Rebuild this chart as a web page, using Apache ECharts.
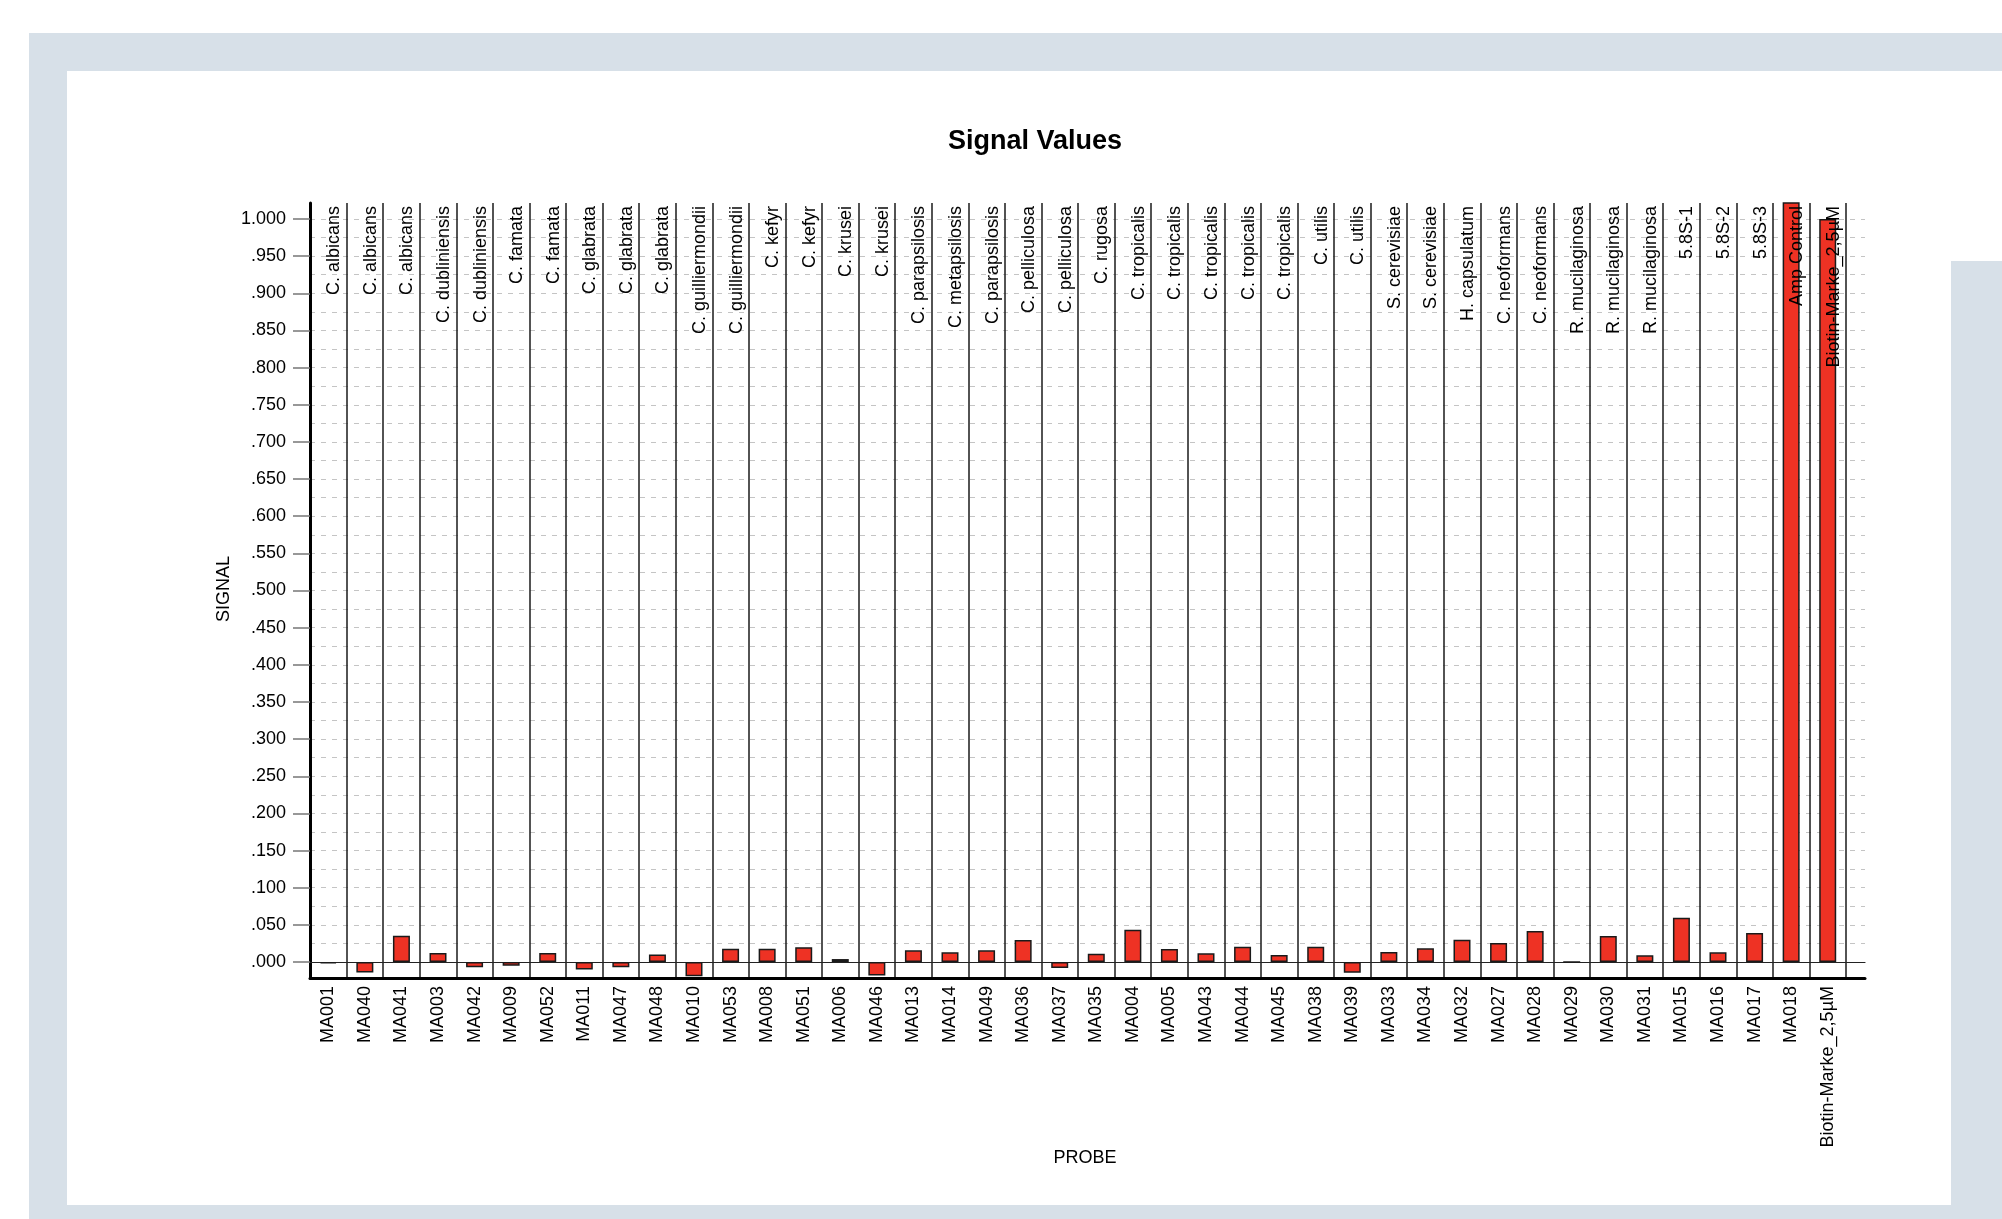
<!DOCTYPE html>
<html>
<head>
<meta charset="utf-8">
<title>Signal Values</title>
<script src="https://cdn.jsdelivr.net/npm/echarts@6/dist/echarts.min.js"></script>
<style>
  html, body { margin: 0; padding: 0; background: #ffffff; }
  #chart { width: 2002px; height: 1219px; }
</style>
</head>
<body>
<div id="chart"></div>
<script>
// Probe identifiers (x axis, bottom)
const probes = [
  'MA001', 'MA040', 'MA041', 'MA003', 'MA042', 'MA009', 'MA052', 'MA011', 'MA047', 'MA048',
  'MA010', 'MA053', 'MA008', 'MA051', 'MA006', 'MA046', 'MA013', 'MA014', 'MA049', 'MA036',
  'MA037', 'MA035', 'MA004', 'MA005', 'MA043', 'MA044', 'MA045', 'MA038', 'MA039', 'MA033',
  'MA034', 'MA032', 'MA027', 'MA028', 'MA029', 'MA030', 'MA031', 'MA015', 'MA016', 'MA017',
  'MA018', 'Biotin-Marke_2,5µM'
];

// Target organism of each probe (labels along the top)
const targets = [
  'C. albicans', 'C. albicans', 'C. albicans', 'C. dubliniensis', 'C. dubliniensis',
  'C. famata', 'C. famata', 'C. glabrata', 'C. glabrata', 'C. glabrata',
  'C. guilliermondii', 'C. guilliermondii', 'C. kefyr', 'C. kefyr', 'C. krusei', 'C. krusei',
  'C. parapsilosis', 'C. metapsilosis', 'C. parapsilosis', 'C. pelliculosa', 'C. pelliculosa',
  'C. rugosa', 'C. tropicalis', 'C. tropicalis', 'C. tropicalis', 'C. tropicalis', 'C. tropicalis',
  'C. utilis', 'C. utilis', 'S. cerevisiae', 'S. cerevisiae', 'H. capsulatum',
  'C. neoformans', 'C. neoformans', 'R. mucilaginosa', 'R. mucilaginosa', 'R. mucilaginosa',
  '5.8S-1', '5.8S-2', '5.8S-3', 'Amp Control', 'Biotin-Marke_2,5µM'
];

// Normalised signal per probe
const signal = [
  -0.002, -0.014, 0.0355, 0.012, -0.007, -0.005, 0.012, -0.010, -0.007, 0.010,
  -0.019, 0.018, 0.018, 0.020, 0.004, -0.018, 0.0157, 0.013, 0.0157, 0.0296,
  -0.008, 0.011, 0.0435, 0.0175, 0.0117, 0.0206, 0.0094, 0.0206, -0.0144, 0.0135,
  0.0184, 0.030, 0.0256, 0.0417, 0, 0.035, 0.009, 0.0597, 0.013, 0.039,
  1.08, 1.000
];

// Visible signal range of the plot area
const signalMin = -0.0215;
const signalMax = 1.0215;

const FONT = "'Liberation Sans', Arial, sans-serif";
const chart = echarts.init(document.getElementById('chart'), null, { renderer: 'canvas' });

function tickText(v) {
  if (Math.abs(v - 1) < 1e-9) return '1.000';
  return v.toFixed(3).replace(/^0/, '');
}

const hidden = { show: false };

const option = {
  animation: false,
  backgroundColor: '#ffffff',
  graphic: [
    // window frame
    { type: 'rect', z: -10, shape: { x: 29, y: 33, width: 1973, height: 1186 }, style: { fill: '#d7e0e8' } },
    { type: 'rect', z: -9, shape: { x: 67, y: 71, width: 1884, height: 1134 }, style: { fill: '#ffffff' } },
    { type: 'rect', z: -9, shape: { x: 1951, y: 71, width: 51, height: 190 }, style: { fill: '#ffffff' } },
    {
      type: 'text', x: 1035, y: 142, z: 5,
      style: { text: 'Signal Values', font: "bold 27px " + FONT, fill: '#000', textAlign: 'center', textVerticalAlign: 'middle' }
    },
    {
      type: 'text', x: 224, y: 589, rotation: Math.PI / 2, z: 5,
      style: { text: 'SIGNAL', font: "18px " + FONT, fill: '#000', textAlign: 'center', textVerticalAlign: 'middle' }
    },
    {
      type: 'text', x: 1085, y: 1158, z: 5,
      style: { text: 'PROBE', font: "18px " + FONT, fill: '#000', textAlign: 'center', textVerticalAlign: 'middle' }
    }
  ],
  grid: [
    // frame: thick left and bottom axis lines
    { left: 310, top: 203, width: 1555, height: 775, outerBoundsMode: 'none', containLabel: false },
    // scale: 0 .. 1 with ticks, labels and dashed grid lines
    { left: 310, top: 219, width: 1555, height: 743, outerBoundsMode: 'none', containLabel: false },
    // bars, one slot per probe
    { left: 310, top: 203, width: 1536, height: 775, outerBoundsMode: 'none', containLabel: false }
  ],
  xAxis: [
    {
      gridIndex: 0, type: 'value', min: 0, max: 1, position: 'bottom',
      axisLine: { show: true, onZero: false, lineStyle: { color: '#000', width: 3 } },
      axisTick: hidden, axisLabel: hidden, splitLine: hidden
    },
    {
      gridIndex: 1, type: 'value', min: 0, max: 1, position: 'bottom',
      axisLine: { show: true, onZero: false, lineStyle: { color: '#222', width: 1.2 } },
      axisTick: hidden, axisLabel: hidden, splitLine: hidden
    },
    {
      gridIndex: 2, type: 'category', data: probes, position: 'bottom',
      axisLine: hidden, axisTick: hidden,
      axisLabel: {
        interval: 0, rotate: 90, margin: 8,
        color: '#000', fontFamily: FONT, fontSize: 18
      },
      splitLine: { show: true, interval: 0, lineStyle: { color: '#1a1a1a', width: 1.5 } }
    },
    {
      gridIndex: 2, type: 'category', data: targets, position: 'top', z: 10,
      axisLine: hidden, axisTick: hidden,
      axisLabel: {
        interval: 0, rotate: -90, inside: true, margin: 3,
        verticalAlign: 'top', lineHeight: 12,
        color: '#000', fontFamily: FONT, fontSize: 18
      },
      splitLine: hidden
    }
  ],
  yAxis: [
    {
      gridIndex: 0, type: 'value', min: 0, max: 1,
      axisLine: { show: true, lineStyle: { color: '#000', width: 3 } },
      axisTick: hidden, axisLabel: hidden, splitLine: hidden
    },
    {
      gridIndex: 1, type: 'value', min: 0, max: 1, interval: 0.05,
      axisLine: hidden,
      axisTick: { show: true, length: 17, lineStyle: { color: '#777', width: 1.5 } },
      axisLabel: { show: true, margin: 24, formatter: tickText, color: '#000', fontFamily: FONT, fontSize: 18 },
      splitLine: { show: true, lineStyle: { color: '#c4c4c4', width: 1, type: [5, 6] } },
      minorTick: { show: false, splitNumber: 2 },
      minorSplitLine: { show: true, lineStyle: { color: '#c4c4c4', width: 1, type: [5, 6] } }
    },
    {
      gridIndex: 2, type: 'value', min: signalMin, max: signalMax,
      axisLine: hidden, axisTick: hidden, axisLabel: hidden, splitLine: hidden
    }
  ],
  series: [
    {
      name: 'Signal',
      type: 'bar',
      xAxisIndex: 2,
      yAxisIndex: 2,
      data: signal,
      barWidth: 17,
      clip: true,
      itemStyle: { color: '#ee3224', borderColor: '#1a1a1a', borderWidth: 1.5 }
    }
  ]
};

chart.setOption(option);
</script>
</body>
</html>
